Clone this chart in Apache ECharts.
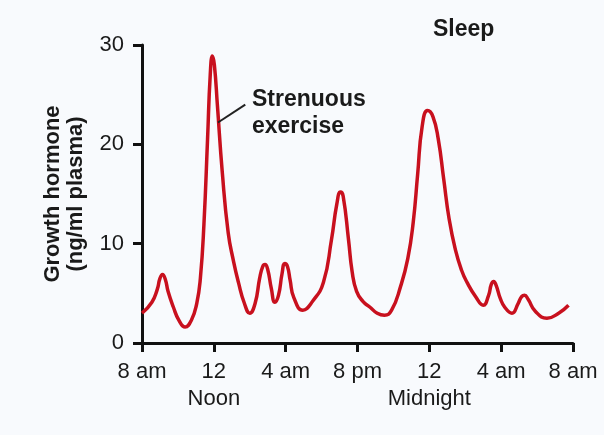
<!DOCTYPE html>
<html>
<head>
<meta charset="utf-8">
<script src="https://cdn.jsdelivr.net/npm/echarts@6/dist/echarts.min.js"></script>
<style>
  html, body { margin: 0; padding: 0; background: #f8fafd; }
  #chart { width: 604px; height: 435px; }
</style>
</head>
<body>
<div id="chart"></div>
<script>
// hours after 8 am
const hours = [0, 0.55, 0.85, 1.0, 1.14, 1.3, 1.45, 1.75, 2.05, 2.4, 2.75, 3.05, 3.25, 3.45,
  3.65, 3.8, 3.92, 4.03, 4.2, 4.47, 4.8, 5.1, 5.37, 5.7, 6.0, 6.3, 6.55, 6.72, 6.85, 7.0,
  7.2, 7.4, 7.6, 7.8, 7.95, 8.1, 8.25, 8.45, 8.95, 9.5, 10.1, 10.55, 10.85, 11.05, 11.2,
  11.5, 11.7, 11.95, 12.3, 12.7, 13.1, 13.5, 13.9, 14.4, 14.8, 15.1, 15.35, 15.6, 15.9,
  16.2, 16.5, 16.8, 17.1, 17.45, 17.8, 18.1, 18.6, 19.0, 19.3, 19.45, 19.58, 19.72, 19.95,
  20.2, 20.6, 20.95, 21.15, 21.3, 21.5, 21.9, 22.55, 23.2, 23.75]
// ng/ml plasma
const hormone = [3.0, 4.1, 5.4, 6.5, 6.9, 6.4, 5.2, 3.6, 2.3, 1.6, 2.3, 4.0, 6.5, 12.0,
  20.5, 27.0, 28.9, 28.0, 23.9, 17.2, 11.1, 8.2, 6.1, 4.0, 3.0, 4.0, 6.5, 7.7, 7.9, 7.4,
  5.5, 4.1, 4.8, 7.0, 8.0, 7.7, 6.3, 4.6, 3.3, 4.2, 6.1, 10.4, 14.0, 15.2, 14.8,
  10.4, 7.2, 5.2, 4.2, 3.6, 3.0, 2.8, 3.3, 5.7, 8.5, 12.1, 17.0, 21.8, 23.4,
  22.8, 20.5, 16.5, 12.5, 9.4, 7.3, 6.1, 4.6, 3.8, 4.8, 5.9, 6.2, 5.8, 4.5,
  3.6, 3.0, 4.0, 4.7, 4.8, 4.4, 3.2, 2.5, 3.0, 3.8]
const xTicks = [0, 4, 8, 12, 16, 20, 24]
const xTickLabels = ['8 am', '12\nNoon', '4 am', '8 pm', '12\nMidnight', '4 am', '8 am']
const yTicks = [0, 10, 20, 30]
// leader line for the exercise note, [hour, value]
const exerciseLeader = [[4.23, 22.2], [5.75, 24.0]]

let chart = echarts.init(document.getElementById('chart'))
const font = 'Liberation Sans, Arial, sans-serif'
let option = {
  backgroundColor: '#f8fafd',
  animation: false,
  grid: { left: 142, right: 31, top: 45, bottom: 92 },
  xAxis: {
    type: 'value',
    min: 0,
    max: 24,
    interval: 4,
    splitLine: { show: false },
    axisLine: { lineStyle: { color: '#111', width: 3 } },
    axisTick: { length: 9, lineStyle: { color: '#111', width: 3 } },
    axisLabel: {
      margin: 15,
      fontFamily: font,
      fontSize: 22,
      color: '#1a1a1a',
      lineHeight: 27,
      formatter: v => xTickLabels[xTicks.indexOf(v)] || ''
    }
  },
  yAxis: {
    type: 'value',
    min: 0,
    max: 30,
    interval: 10,
    splitLine: { show: false },
    axisLine: { show: true, lineStyle: { color: '#111', width: 3 } },
    axisTick: { show: true, length: 9, lineStyle: { color: '#111', width: 3 } },
    axisLabel: {
      margin: 18,
      fontFamily: font,
      fontSize: 22,
      color: '#1a1a1a',
      formatter: v => yTicks.includes(v) ? String(v) : ''
    },
    name: 'Growth hormone\n(ng/ml plasma)',
    nameLocation: 'middle',
    nameRotate: 90,
    nameGap: 55,
    nameTextStyle: {
      fontFamily: font,
      fontSize: 22,
      fontWeight: 'bold',
      color: '#1a1a1a',
      lineHeight: 23
    }
  },
  series: [{
    type: 'line',
    data: hours.map((h, i) => [h, hormone[i]]),
    smooth: 0.5,
    showSymbol: false,
    lineStyle: { color: '#c8101e', width: 3.5 },
    markLine: {
      silent: true,
      symbol: 'none',
      label: { show: false },
      lineStyle: { color: '#222', width: 2, type: 'solid' },
      data: [[{ coord: exerciseLeader[0] }, { coord: exerciseLeader[1] }]]
    }
  }],
  graphic: [
    {
      type: 'text',
      left: 433,
      top: 18,
      style: { text: 'Sleep', font: 'bold 23px ' + font, fill: '#1a1a1a' }
    },
    {
      type: 'text',
      left: 252,
      top: 86,
      style: {
        text: 'Strenuous\nexercise',
        font: 'bold 23px ' + font,
        fill: '#1a1a1a',
        lineHeight: 27
      }
    }
  ]
}
chart.setOption(option)
</script>
</body>
</html>
